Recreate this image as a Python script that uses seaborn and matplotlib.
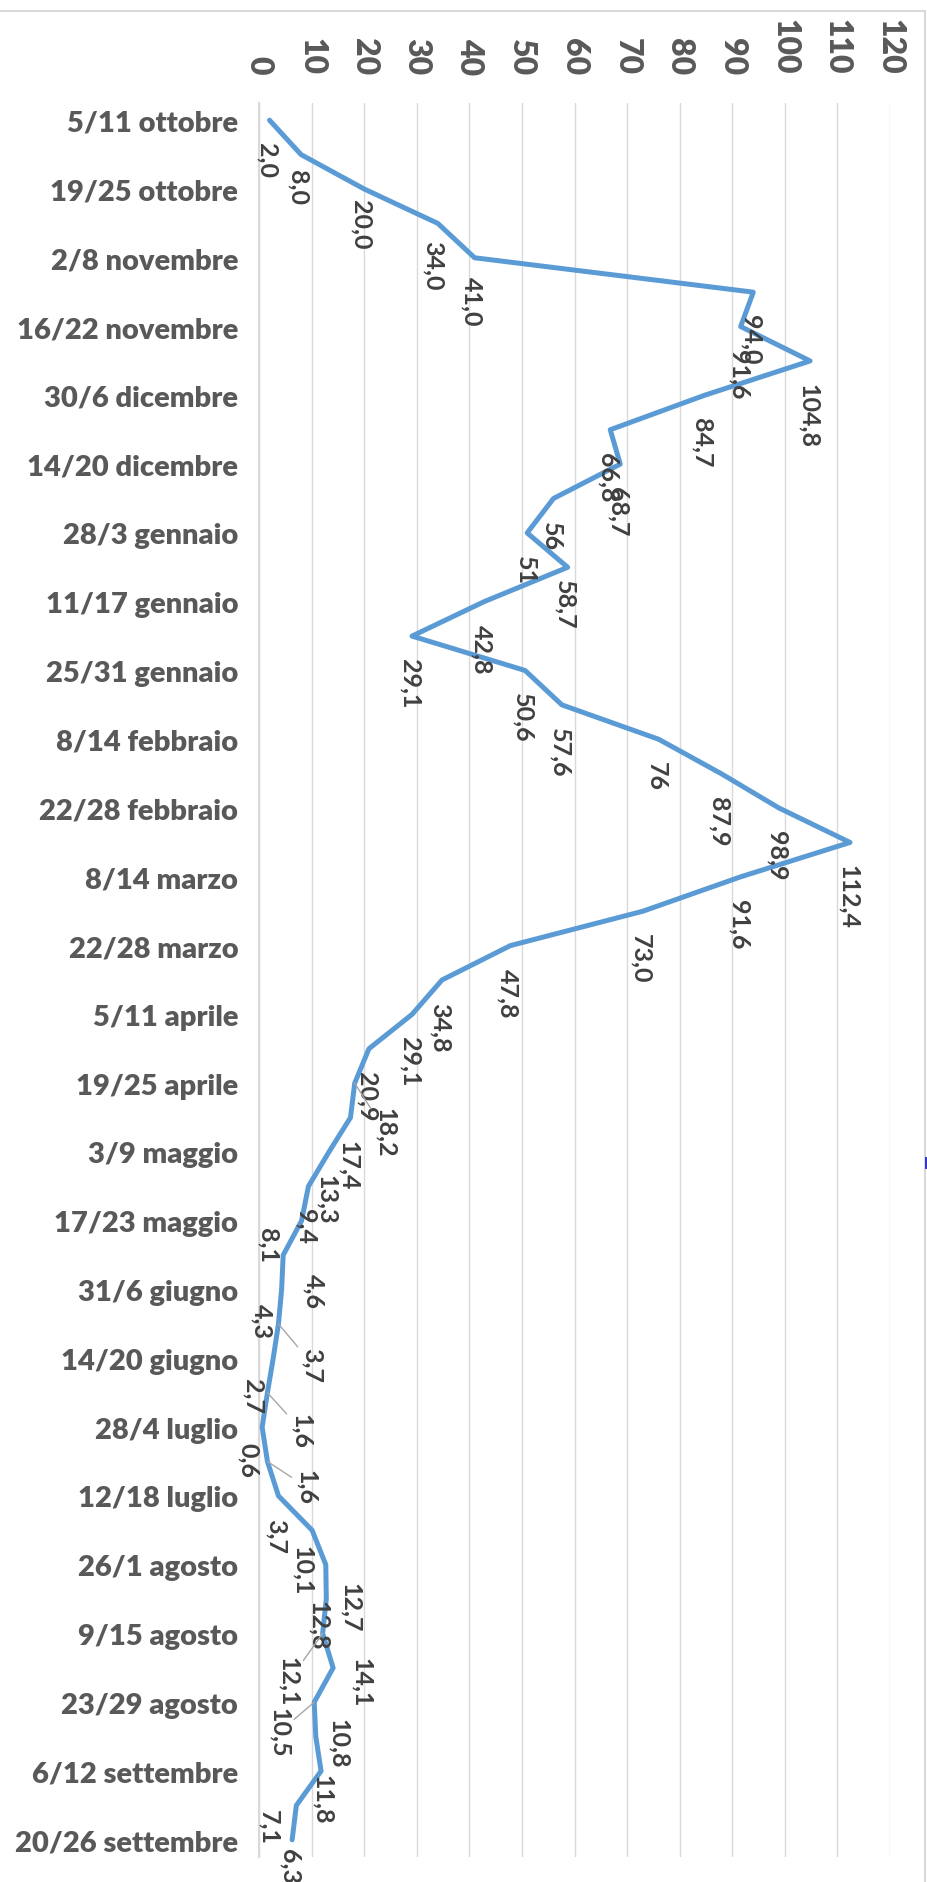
import matplotlib
matplotlib.use("Agg")
import matplotlib.pyplot as plt
from matplotlib.patches import Rectangle
import pandas as pd
import seaborn as sns


SETTIMANE = [
    "5/11 ottobre", "12/18 ottobre", "19/25 ottobre", "26/1 novembre",
    "2/8 novembre", "9/15 novembre", "16/22 novembre", "23/29 novembre",
    "30/6 dicembre", "7/13 dicembre", "14/20 dicembre", "21/27 dicembre",
    "28/3 gennaio", "4/10 gennaio", "11/17 gennaio", "18/24 gennaio",
    "25/31 gennaio", "1/7 febbraio", "8/14 febbraio", "15/21 febbraio",
    "22/28 febbraio", "1/7 marzo", "8/14 marzo", "15/21 marzo",
    "22/28 marzo", "29/4 aprile", "5/11 aprile", "12/18 aprile",
    "19/25 aprile", "26/2 maggio", "3/9 maggio", "10/16 maggio",
    "17/23 maggio", "24/30 maggio", "31/6 giugno", "7/13 giugno",
    "14/20 giugno", "21/27 giugno", "28/4 luglio", "5/11 luglio",
    "12/18 luglio", "19/25 luglio", "26/1 agosto", "2/8 agosto",
    "9/15 agosto", "16/22 agosto", "23/29 agosto", "30/5 settembre",
    "6/12 settembre", "13/19 settembre", "20/26 settembre",
]

VALORI = [
    2.0, 8.0, 20.0, 34.0, 41.0, 94.0, 91.6, 104.8, 84.7, 66.8, 68.7,
    56, 51, 58.7, 42.8, 29.1, 50.6, 57.6, 76, 87.9, 98.9,
    112.4, 91.6, 73.0, 47.8, 34.8, 29.1, 20.9, 18.2, 17.4, 13.3,
    9.4, 8.1, 4.6, 4.3, 3.7, 2.7, 1.6, 0.6, 1.6, 3.7,
    10.1, 12.7, 12.8, 12.1, 14.1, 10.5, 10.8, 11.8, 7.1, 6.3,
]

ETICHETTE = [
    "2,0", "8,0", "20,0", "34,0", "41,0", "94,0", "91,6", "104,8", "84,7", "66,8", "68,7",
    "56", "51", "58,7", "42,8", "29,1", "50,6", "57,6", "76", "87,9", "98,9",
    "112,4", "91,6", "73,0", "47,8", "34,8", "29,1", "20,9", "18,2", "17,4", "13,3",
    "9,4", "8,1", "4,6", "4,3", "3,7", "2,7", "1,6", "0,6", "1,6", "3,7",
    "10,1", "12,7", "12,8", "12,1", "14,1", "10,5", "10,8", "11,8", "7,1", "6,3",
]

ASSE_X = list(range(0, 130, 10))

# label nudges in pixels: (dx, gap below the point), others use the default
DEFAULT_NUDGE = (-2, 22)
NUDGE = {
    1: (-3, 14), 2: (-3, 10), 3: (-5, 17), 4: (-3, 18), 13: (-3, 12),
    28: (31, 24), 32: (-34, 6), 33: (31, 18), 34: (-20, 13), 35: (34, 23),
    36: (-20, 20), 37: (34, 20), 38: (-14, 15), 39: (39, 8), 41: (-10, 15),
    42: (25, 17), 43: (-8, 1), 44: (-34, 23), 45: (28, -11), 46: (-35, 5),
    47: (23, -19), 48: (1, 3), 49: (-27, 4), 50: (-2, 8),
}
LEADERS = {28, 35, 37, 39, 44, 46}

GRAY_TXT = "#595959"
GRAY_LBL = "#404040"
BLUE = "#5B9BD5"
GRID = "#D9D9D9"


def main() -> None:
    sns.set_style("white")
    plt.rcParams["font.family"] = ["Lato", "DejaVu Sans"]

    df = pd.DataFrame({"settimana": range(len(VALORI)), "casi": VALORI})

    fig = plt.figure(figsize=(9.28, 18.83), dpi=100)
    ax = fig.add_axes([259 / 928, 1 - 1858 / 1883, 631 / 928, 1754 / 1883])

    for v in ASSE_X:
        ax.axvline(v, color=GRID, linewidth=1.0, zorder=0)

    sns.lineplot(
        data=df, x="casi", y="settimana", orient="y", sort=False,
        estimator=None, color=BLUE, linewidth=3.6, ax=ax,
        solid_joinstyle="round", solid_capstyle="round", zorder=3,
    )

    ax.set_xlim(0, 120)
    ax.set_ylim(len(VALORI) - 0.5, -0.5)

    ax.xaxis.tick_top()
    ax.set_xticks(ASSE_X)
    ax.set_xticklabels([str(v) for v in ASSE_X], rotation=-90,
                       fontweight="heavy", fontsize=23, color=GRAY_TXT)
    ax.tick_params(axis="x", length=0, pad=21)

    ax.set_yticks(range(0, len(SETTIMANE), 2))
    ax.set_yticklabels(SETTIMANE[::2], fontweight="heavy", fontsize=21, color=GRAY_TXT)
    ax.tick_params(axis="y", length=0, pad=15)

    ax.set_xlabel("")
    ax.set_ylabel("")
    for side in ["top", "right", "bottom"]:
        ax.spines[side].set_visible(False)
    ax.spines["left"].set_color(GRID)
    ax.spines["left"].set_linewidth(1.5)

    for i, (v, txt) in enumerate(zip(VALORI, ETICHETTE)):
        dx, gap = NUDGE.get(i, DEFAULT_NUDGE)
        arrow = None
        if i in LEADERS:
            arrow = dict(arrowstyle="-", color="#A6A6A6", lw=1.0, shrinkA=0, shrinkB=0)
        ax.annotate(
            txt, xy=(v, i), xytext=(dx, -gap), textcoords="offset pixels",
            rotation=-90, ha="center", va="top", fontsize=18,
            fontweight="bold", color=GRAY_LBL, arrowprops=arrow, zorder=4,
        )

    fig.patches.append(Rectangle((-0.01, -0.01), 0.9968 + 0.01, 0.9936 + 0.01,
                                 transform=fig.transFigure, fill=False,
                                 edgecolor=GRID, linewidth=1.5))
    fig.patches.append(Rectangle((925 / 928, 1 - 1170 / 1883), 3 / 928, 12 / 1883,
                                 transform=fig.transFigure, facecolor="#3535C8",
                                 edgecolor="none"))

    fig.savefig("out.png", dpi=100)
    plt.close(fig)


if __name__ == "__main__":
    main()
